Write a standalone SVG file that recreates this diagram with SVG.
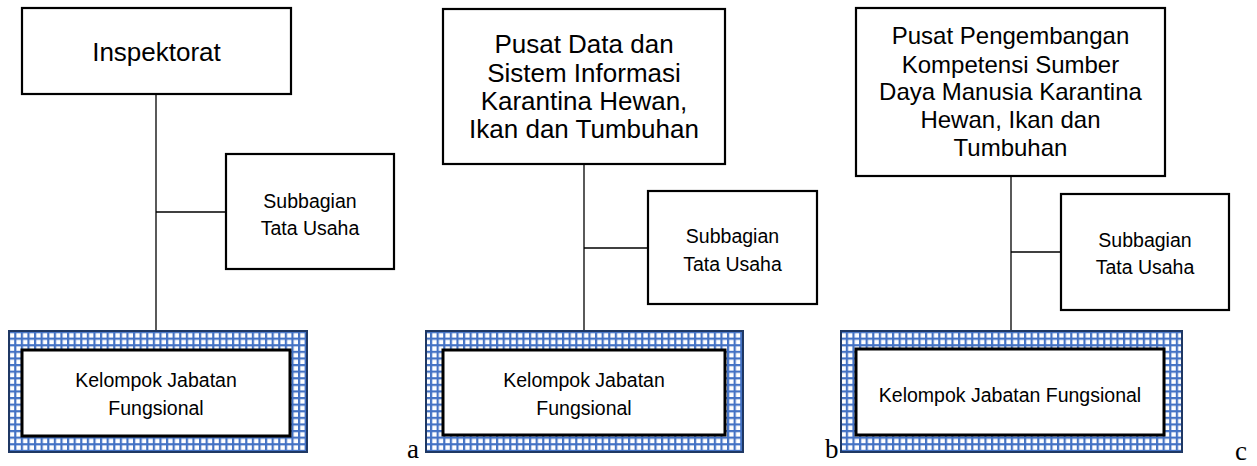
<svg xmlns="http://www.w3.org/2000/svg" width="1257" height="466" viewBox="0 0 1257 466">
<defs>
<pattern id="grid" patternUnits="userSpaceOnUse" x="1" y="1" width="6.6" height="6.6">
<rect width="6.6" height="6.6" fill="#ffffff"/>
<rect x="0" y="0" width="2.2" height="6.6" fill="#4472C4"/>
<rect x="0" y="0" width="6.6" height="2.2" fill="#4472C4"/>
</pattern>
</defs>
<style>
.box{fill:#ffffff;stroke:#000000;stroke-width:2.2}
.inner{fill:#ffffff;stroke:#000000;stroke-width:3}
.outer{fill:url(#grid);stroke:#1F3864;stroke-width:2}
.ln{stroke:#000000;stroke-width:1.3;fill:none}
.t{font-family:"Liberation Sans",Arial,sans-serif;fill:#000000;text-anchor:middle}
.big{font-size:26px}
.mid{font-size:24px}
.sm{font-size:19.5px}
.lab{font-family:"Liberation Serif","Times New Roman",serif;font-size:27px;fill:#000000}
</style>
<rect width="1257" height="466" fill="#ffffff"/>
<g id="connectors">
<line class="ln" x1="156" y1="94" x2="156" y2="350"/>
<line class="ln" x1="156" y1="212" x2="226" y2="212"/>
<line class="ln" x1="584" y1="164" x2="584" y2="350"/>
<line class="ln" x1="584" y1="248" x2="648" y2="248"/>
<line class="ln" x1="1011" y1="176" x2="1011" y2="349"/>
<line class="ln" x1="1011" y1="252" x2="1061" y2="252"/>
</g>
<g id="inspektorat">
<rect class="box" x="22" y="8" width="269" height="86"/>
<text class="t big" x="156.5" y="61">Inspektorat</text>
</g>
<g id="subbagian-a">
<rect class="box" x="226" y="154" width="168" height="115"/>
<text class="t sm" x="310" y="208">Subbagian</text>
<text class="t sm" x="310" y="235">Tata Usaha</text>
</g>
<g id="jabfung-a">
<rect class="outer" x="9" y="331" width="298" height="121"/>
<rect class="inner" x="22" y="350" width="268" height="86"/>
<text class="t sm" x="156" y="387">Kelompok Jabatan</text>
<text class="t sm" x="156" y="415">Fungsional</text>
</g>
<g id="pusdatin">
<rect class="box" x="443" y="9" width="282" height="155"/>
<text class="t big" x="584" y="53">Pusat Data dan</text>
<text class="t big" x="584" y="82">Sistem Informasi</text>
<text class="t big" x="584" y="110">Karantina Hewan,</text>
<text class="t big" x="584" y="138">Ikan dan Tumbuhan</text>
</g>
<g id="subbagian-b">
<rect class="box" x="648" y="191" width="169" height="113"/>
<text class="t sm" x="732.5" y="243">Subbagian</text>
<text class="t sm" x="732.5" y="271">Tata Usaha</text>
</g>
<g id="jabfung-b">
<rect class="outer" x="426" y="331" width="317" height="121"/>
<rect class="inner" x="443" y="350" width="282" height="85"/>
<text class="t sm" x="584" y="387">Kelompok Jabatan</text>
<text class="t sm" x="584" y="415">Fungsional</text>
</g>
<g id="pusbang">
<rect class="box" x="856" y="8" width="309" height="168"/>
<text class="t mid" x="1010.5" y="44">Pusat Pengembangan</text>
<text class="t mid" x="1010.5" y="73">Kompetensi Sumber</text>
<text class="t mid" x="1010.5" y="100">Daya Manusia Karantina</text>
<text class="t mid" x="1010.5" y="128">Hewan, Ikan dan</text>
<text class="t mid" x="1010.5" y="156">Tumbuhan</text>
</g>
<g id="subbagian-c">
<rect class="box" x="1061" y="194" width="168" height="116"/>
<text class="t sm" x="1145" y="247">Subbagian</text>
<text class="t sm" x="1145" y="274">Tata Usaha</text>
</g>
<g id="jabfung-c">
<rect class="outer" x="841" y="331" width="341" height="121"/>
<rect class="inner" x="856" y="349" width="308" height="86"/>
<text class="t sm" x="1010" y="402">Kelompok Jabatan Fungsional</text>
</g>
<g id="labels">
<text class="lab" x="407" y="458">a</text>
<text class="lab" x="825" y="458">b</text>
<text class="lab" x="1235" y="460">c</text>
</g>
</svg>
